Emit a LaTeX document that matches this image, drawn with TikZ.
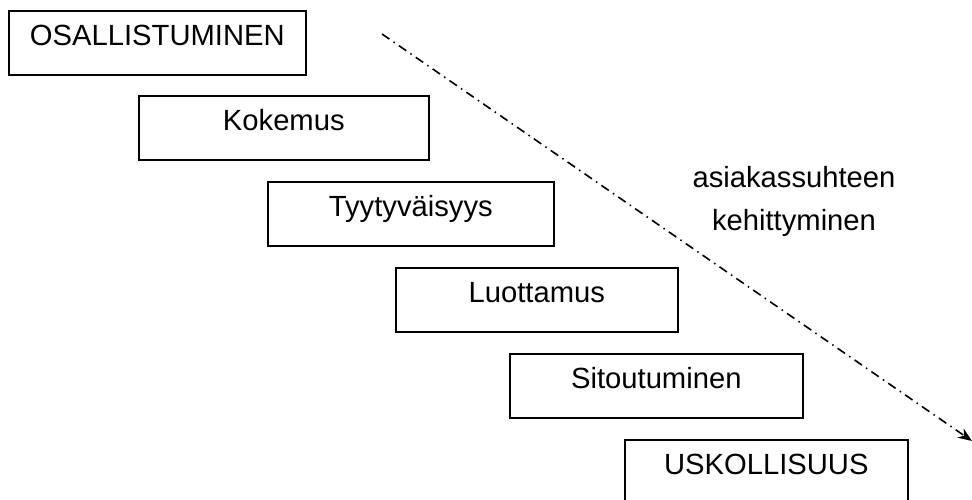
\documentclass[tikz,border=0pt]{standalone}
\usepackage{fontspec}
\setmainfont{Liberation Sans}
\usetikzlibrary{arrows.meta}
\begin{document}
\begin{tikzpicture}[x=1pt,y=-1pt,
  stepbox/.style={draw=black, line width=1.6pt, inner sep=0pt, anchor=north west,
    text height=35pt, text depth=29pt, align=center,
    font=\fontsize{29.2}{34}\selectfont},
  lbl/.style={anchor=base, inner sep=0pt, font=\fontsize{29.2}{34}\selectfont},
  devarrow/.style={line width=1.6pt, dash pattern=on 9pt off 5pt on 1.5pt off 5pt,
    -{Stealth[length=14pt,width=11pt]}}]
\useasboundingbox (0,0) rectangle (972,499);
\node[stepbox, text width=297pt] (b1) at (8,10) {OSALLISTUMINEN};
\node[stepbox, text width=290pt] (b2) at (138,95) {Kokemus};
\node[stepbox, text width=286pt] (b3) at (267,181) {Tyytyväisyys};
\node[stepbox, text width=282pt] (b4) at (395,267) {Luottamus};
\node[stepbox, text width=293pt] (b5) at (509,353) {Sitoutuminen};
\node[stepbox, text width=283pt, text depth=34pt] (b6) at (624,439) {USKOLLISUUS};
\coordinate (s) at (382,34);
\coordinate (e) at (972,441);
\draw[devarrow] (s) -- (e);
\node[lbl] (t1) at (794,187) {asiakassuhteen};
\node[lbl] (t2) at (794,230) {kehittyminen};
\end{tikzpicture}
\end{document}
